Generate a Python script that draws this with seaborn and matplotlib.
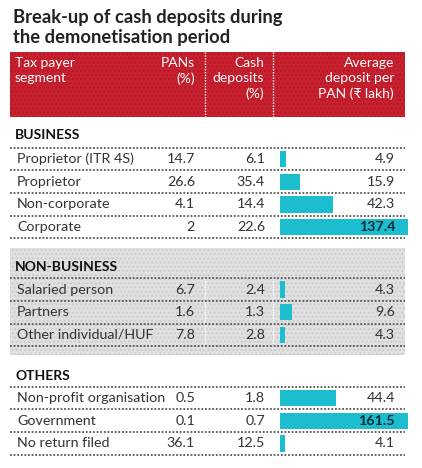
import matplotlib
matplotlib.use("Agg")
import matplotlib.pyplot as plt
import seaborn as sns
import pandas as pd
from matplotlib.patches import Rectangle

# Table data
sections = ["BUSINESS", "NON-BUSINESS", "OTHERS"]
segments = [
    ["Proprietor (ITR 4S)", "Proprietor", "Non-corporate", "Corporate"],
    ["Salaried person", "Partners", "Other individual/HUF"],
    ["Non-profit organisation", "Government", "No return filed"],
]
pans = [
    [14.7, 26.6, 4.1, 2],
    [6.7, 1.6, 7.8],
    [0.5, 0.1, 36.1],
]
cash = [
    [6.1, 35.4, 14.4, 22.6],
    [2.4, 1.3, 2.8],
    [1.8, 0.7, 12.5],
]
avg_deposit = [
    [4.9, 15.9, 42.3, 137.4],
    [4.3, 9.6, 4.3],
    [44.4, 161.5, 4.1],
]

W, H = 422, 468
RED = "#c8202e"
CYAN = "#1dbdd0"
GREY_BG = "#e0e0e0"
TXT = "#333333"

sns.set_theme(style="white")
plt.rcParams["font.family"] = ["Lato", "DejaVu Sans"]

fig = plt.figure(figsize=(W / 100, H / 100), dpi=100)
bg = fig.add_axes([0, 0, 1, 1])
bg.set_xlim(0, W)
bg.set_ylim(H, 0)
bg.axis("off")


def px_axes(x0, y0, x1, y1):
    return fig.add_axes([x0 / W, 1 - y1 / H, (x1 - x0) / W, (y1 - y0) / H])


# title
bg.text(13, 17, "Break-up of cash deposits during", fontsize=13.2,
        fontweight="bold", color="#222222", va="center")
bg.text(13, 37, "the demonetisation period", fontsize=13.2,
        fontweight="bold", color="#222222", va="center")

# header block
bg.add_patch(Rectangle((10, 52), 395, 65, facecolor=RED, edgecolor="#b31a28",
                       hatch="....", lw=0))
for xd in (205, 273):
    bg.plot([xd, xd], [52, 117], color="white", lw=1, ls=(0, (1, 1)))
hdr = dict(color="white", fontsize=10, va="top", linespacing=1.3)
bg.text(15, 57, "Tax payer\nsegment", ha="left", **hdr)
bg.text(195, 57, "PANs\n(%)", ha="right", multialignment="right", **hdr)
bg.text(264, 57, "Cash\ndeposits\n(%)", ha="right", multialignment="right", **hdr)
bg.text(394, 57, "Average\ndeposit per\nPAN (₹ lakh)", ha="right",
        multialignment="right", **hdr)

# layout of each section: header y, first row centre
row_h = 22.7
sec_head_y = [135, 267, 376]
first_row = [159, 289.5, 398]

# grey band behind NON-BUSINESS
bg.add_patch(Rectangle((10, 248), 395, 107, facecolor=GREY_BG,
                       edgecolor="#cbcbcb", hatch="....", lw=0, zorder=0))
for xd in (205, 273):
    bg.plot([xd, xd], [278, 348], color="white", lw=1, ls=(0, (1, 1)), zorder=1)

line_kw = dict(color="#555555", lw=1.3, ls=(0, (1, 1)))
fs = 10.3

for s, name in enumerate(sections):
    bg.text(15, sec_head_y[s], name, fontsize=10, fontweight="bold",
            color="#111111", va="center")
    top = first_row[s] - row_h / 2
    bg.plot([10, 405], [top, top], **line_kw)
    for i, seg in enumerate(segments[s]):
        yc = first_row[s] + i * row_h
        bg.text(17, yc, seg, fontsize=fs, color=TXT, va="center")
        bg.text(195, yc, f"{pans[s][i]:g}", fontsize=fs, color=TXT,
                va="center", ha="right")
        bg.text(265, yc, f"{cash[s][i]:g}", fontsize=fs, color=TXT,
                va="center", ha="right")
        yb = yc + row_h / 2
        bg.plot([10, 405], [yb, yb], **line_kw)

    # bars for this section
    n = len(segments[s])
    ax = px_axes(280, top, 408, top + n * row_h)
    df = pd.DataFrame({"segment": segments[s], "avg": avg_deposit[s]})
    sns.barplot(data=df, x="avg", y="segment", orient="h", color=CYAN,
                width=0.72, saturation=1, ax=ax, edgecolor="none")
    ax.set_xlim(0, 102)
    ax.set_facecolor("none")
    ax.axis("off")
    for i, v in enumerate(avg_deposit[s]):
        big = v > 102
        ax.text(0.9, i, f"{v:g}", transform=ax.get_yaxis_transform(),
                ha="right", va="center", fontsize=fs,
                fontweight="bold" if big else "normal",
                color="#0b2a33" if big else TXT)

fig.savefig("out.png", dpi=100)
